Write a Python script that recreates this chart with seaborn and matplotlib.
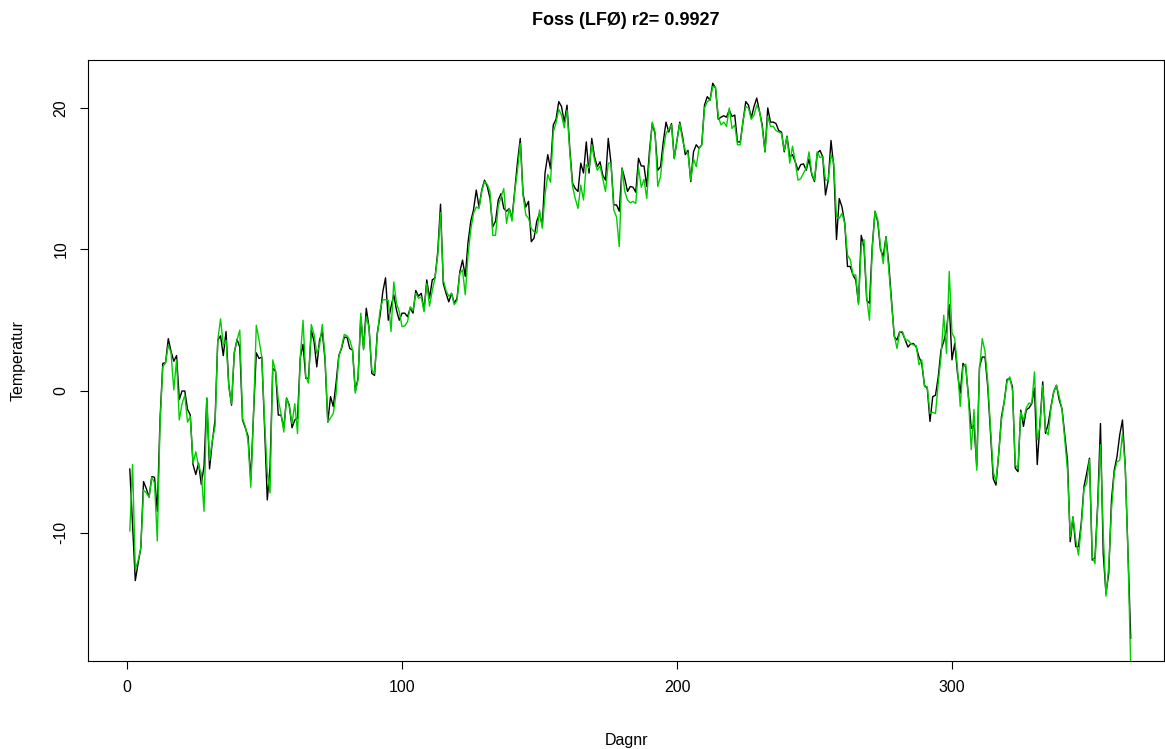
import numpy as np
import pandas as pd
import matplotlib
matplotlib.use("Agg")
import matplotlib.pyplot as plt
import seaborn as sns

observed = [
    -5.5, -9.5, -13.4, -12.2, -11.1, -6.4, -6.9, -7.5, -6.05, -6.1,
    -8.5, -2.0, 1.95, 2.0, 3.7, 2.8, 2.1, 2.5, -0.6, 0.0,
    0.0, -1.3, -1.7, -5.2, -5.9, -5.1, -6.6, -5.3, -0.5, -5.5,
    -3.6, -2.05, 3.6, 3.9, 2.5, 4.2, 0.4, -1.0, 2.7, 3.65,
    3.1, -2.05, -2.6, -3.2, -6.3, -1.6, 2.7, 2.3, 2.4, -2.5,
    -7.7, -5.35, 1.6, 1.4, -1.7, -1.7, -2.6, -0.5, -1.0, -2.6,
    -2.05, -1.9, 2.35, 3.3, 0.9, 0.9, 4.3, 3.5, 1.7, 3.6,
    4.2, 2.2, -2.2, -0.4, -1.1, 0.55, 2.5, 3.0, 3.8, 3.8,
    3.0, 2.9, 0.0, 0.9, 5.25, 3.0, 5.85, 4.5, 1.25, 1.1,
    4.1, 5.3, 7.0, 8.0, 5.0, 5.95, 6.8, 5.7, 5.0, 5.5,
    5.5, 5.25, 5.85, 5.5, 7.1, 6.7, 6.9, 5.7, 7.85, 6.55,
    7.85, 8.0, 9.85, 13.2, 7.6, 6.9, 6.3, 6.9, 6.2, 6.55,
    8.4, 9.25, 8.1, 10.5, 12.0, 12.8, 14.2, 13.0, 14.2, 14.9,
    14.45, 13.6, 11.6, 12.0, 13.5, 13.95, 12.9, 12.7, 12.9, 12.2,
    14.2, 16.2, 17.85, 13.95, 13.0, 13.4, 10.55, 10.8, 12.0, 12.55,
    11.7, 15.4, 16.7, 15.7, 18.8, 19.2, 20.45, 20.1, 19.0, 20.2,
    17.15, 14.7, 14.3, 14.1, 16.1, 15.4, 17.6, 15.4, 17.85, 16.55,
    15.85, 16.2, 15.25, 14.9, 17.85, 16.1, 13.15, 13.15, 12.7, 15.75,
    15.0, 14.1, 14.45, 14.4, 14.05, 16.45, 15.9, 15.9, 14.45, 17.0,
    18.9, 18.2, 15.6, 15.85, 17.6, 19.0, 18.3, 18.9, 16.45, 17.75,
    19.0, 18.0, 16.7, 17.0, 14.8, 16.9, 17.4, 17.15, 17.4, 20.2,
    20.8, 20.55, 21.75, 21.4, 19.2, 19.35, 19.45, 19.35, 19.85, 19.4,
    19.5, 17.6, 17.6, 19.0, 20.45, 20.2, 19.3, 20.1, 20.7, 19.75,
    18.8, 16.9, 20.0, 19.0, 19.0, 18.9, 18.4, 18.3, 16.9, 18.0,
    16.55, 16.7, 16.2, 15.6, 16.0, 16.05, 15.6, 16.4, 15.3, 14.8,
    16.8, 17.0, 16.55, 13.85, 14.9, 17.7, 15.85, 10.7, 13.6, 13.0,
    11.85, 8.8, 8.8, 8.2, 7.85, 6.2, 11.0, 10.2, 6.4, 6.2,
    10.2, 12.7, 11.95, 10.0, 9.5, 10.9, 9.0, 6.4, 3.85, 3.6,
    4.2, 4.1, 3.6, 3.1, 3.35, 3.35, 3.1, 2.4, 1.95, 0.4,
    0.2, -2.15, -0.4, -0.3, 1.0, 2.9, 3.5, 4.3, 6.1, 2.2,
    3.35, 1.25, -0.15, 1.95, 1.7, -0.4, -2.65, -2.4, -5.3, 1.7,
    2.4, 2.4, 0.3, -3.0, -6.2, -6.65, -4.4, -1.8, -0.75, 0.8,
    0.9, 0.3, -5.45, -5.7, -1.35, -2.5, -1.35, -1.2, -0.9, 0.2,
    -5.2, -2.3, 0.65, -3.0, -2.3, -1.1, -0.05, 0.4, -0.65, -1.25,
    -3.1, -4.9, -10.65, -8.9, -11.0, -11.0, -9.35, -6.75, -5.8, -4.75,
    -11.95, -11.8, -7.95, -2.3, -11.5, -14.3, -12.9, -7.7, -5.6, -4.65,
    -3.1, -2.05, -5.3, -11.5, -17.5,
]

modelled = [
    -9.9, -5.2, -12.6, -12.0, -11.1, -7.0, -7.2, -7.5, -6.1, -6.5,
    -10.6, -2.3, 1.7, 2.0, 3.25, 2.7, 0.07, 2.2, -2.05, -0.9,
    -0.3, -2.2, -1.8, -5.1, -4.3, -5.3, -5.8, -8.5, -0.5, -4.9,
    -3.5, -2.5, 3.6, 5.1, 3.25, 3.6, 0.3, -0.9, 2.7, 3.6,
    4.3, -1.95, -2.5, -3.5, -6.8, -1.6, 4.65, 3.6, 2.4, -2.05,
    -5.8, -7.2, 2.2, 1.4, -0.6, -1.6, -2.9, -0.5, -1.1, -2.3,
    -0.9, -3.0, 2.4, 5.0, 1.0, 0.55, 4.7, 4.0, 2.65, 3.2,
    4.7, 2.4, -2.2, -1.9, -1.6, -0.2, 2.4, 3.1, 4.0, 3.9,
    3.6, 2.9, -0.15, 0.8, 5.5, 2.9, 5.25, 4.5, 1.5, 1.25,
    3.9, 5.7, 6.45, 6.45, 6.4, 4.2, 7.7, 6.2, 5.6, 4.55,
    4.6, 4.9, 5.95, 5.7, 6.9, 6.55, 6.65, 5.6, 7.6, 6.0,
    7.1, 8.0, 9.6, 12.6, 7.85, 7.1, 6.7, 6.9, 6.1, 6.4,
    8.3, 8.55, 6.8, 9.6, 11.4, 12.55, 13.0, 12.9, 14.1, 14.8,
    14.6, 14.1, 11.0, 11.0, 13.1, 13.7, 14.3, 11.85, 12.9, 12.0,
    14.1, 15.6, 17.5, 13.85, 12.45, 12.2, 11.5, 11.25, 11.15, 12.8,
    11.5, 13.85, 15.3, 14.75, 18.3, 18.95, 19.9, 19.5, 18.6, 19.85,
    16.9, 14.45, 13.6, 12.9, 14.55, 13.5, 16.0, 15.75, 17.4, 16.3,
    15.6, 15.9, 15.0, 14.1, 16.1, 16.1, 12.8, 12.3, 10.2, 15.75,
    14.1, 13.5, 13.3, 13.4, 13.25, 15.8, 14.4, 14.95, 13.6, 16.55,
    19.0, 18.3, 14.45, 15.15, 17.0, 18.2, 18.5, 18.8, 16.4, 17.75,
    18.9, 17.75, 17.0, 16.8, 14.9, 16.4, 15.85, 17.15, 17.4, 20.0,
    20.45, 20.55, 21.5, 21.5, 19.4, 18.8, 19.0, 18.7, 20.0, 18.55,
    18.8, 17.4, 17.4, 19.1, 20.1, 20.0, 19.2, 19.5, 20.2, 19.75,
    18.6, 16.9, 19.4, 18.7, 18.7, 18.4, 18.3, 18.2, 17.0, 18.0,
    16.1, 17.3, 16.2, 14.9, 15.0, 15.4, 15.75, 16.9, 15.4, 14.9,
    16.9, 16.5, 16.55, 14.9, 14.9, 16.7, 16.1, 12.3, 12.2, 12.55,
    11.85, 9.6, 9.3, 8.2, 8.2, 6.1, 10.2, 10.7, 6.6, 5.0,
    10.0, 12.7, 12.1, 10.2, 9.0, 10.9, 8.6, 6.2, 3.95, 3.0,
    4.2, 4.2, 3.6, 3.6, 3.35, 3.25, 3.2, 1.85, 2.2, 0.3,
    0.3, -1.6, -1.5, -1.6, 0.55, 2.4, 5.35, 2.65, 8.45, 4.1,
    3.7, 1.6, -1.1, 1.7, 1.9, -0.6, -4.15, -1.3, -5.6, 1.5,
    3.7, 2.8, 0.65, -2.6, -5.7, -6.4, -4.4, -2.05, -0.75, 0.65,
    1.0, 0.05, -5.2, -5.5, -1.5, -2.05, -1.2, -0.85, -0.9, 1.35,
    -3.45, -2.5, 0.4, -2.75, -3.1, -1.2, -0.05, 0.4, -0.4, -1.3,
    -3.4, -5.6, -10.3, -8.9, -10.5, -11.6, -9.6, -6.9, -6.5, -4.85,
    -11.7, -12.2, -8.2, -3.8, -10.05, -14.5, -12.4, -8.4, -5.8, -5.0,
    -4.9, -3.0, -5.3, -11.5, -19.5,
]

days = list(range(1, len(observed) + 1))
x_ticks = [0, 100, 200, 300]
y_ticks = [-10, 0, 10, 20]
title = "Foss (LFØ) r2= 0.9927"

df = pd.DataFrame({"Dagnr": days, "obs": observed, "mod": modelled})

sns.set_theme(style="white")
plt.rcParams["font.family"] = ["Liberation Sans", "DejaVu Sans"]
plt.rcParams["text.color"] = "black"
plt.rcParams["axes.labelcolor"] = "black"

fig = plt.figure(figsize=(11.65, 7.49), dpi=100)
ax = fig.add_axes([88 / 1165, 1 - 661 / 749, (1164 - 88) / 1165, (661 - 60) / 749])

sns.lineplot(data=df, x="Dagnr", y="obs", color="black", linewidth=1.0, ax=ax)
sns.lineplot(data=df, x="Dagnr", y="mod", color="#00CD00", linewidth=1.0, ax=ax)

ax.set_xlim(-14.2, 377.1)
ax.set_ylim(-19.08, 23.39)
ax.set_xticks(x_ticks)
ax.set_yticks(y_ticks)
ax.set_yticklabels([str(t) for t in y_ticks], rotation=90, va="center")
ax.tick_params(axis="both", direction="out", length=6, width=0.8, color="black",
               labelsize=11.5, labelcolor="black", bottom=True, left=True, pad=8)
for s in ax.spines.values():
    s.set_visible(True)
    s.set_color("black")
    s.set_linewidth(0.8)

ax.set_xlabel("Dagnr", fontsize=11.5, labelpad=27, color="black")
ax.set_ylabel("Temperatur", fontsize=11.5, labelpad=20, color="black")
ax.set_title(title, fontsize=13, fontweight="bold", pad=25, color="black")
ax.grid(False)

fig.savefig("out.png", dpi=100)
